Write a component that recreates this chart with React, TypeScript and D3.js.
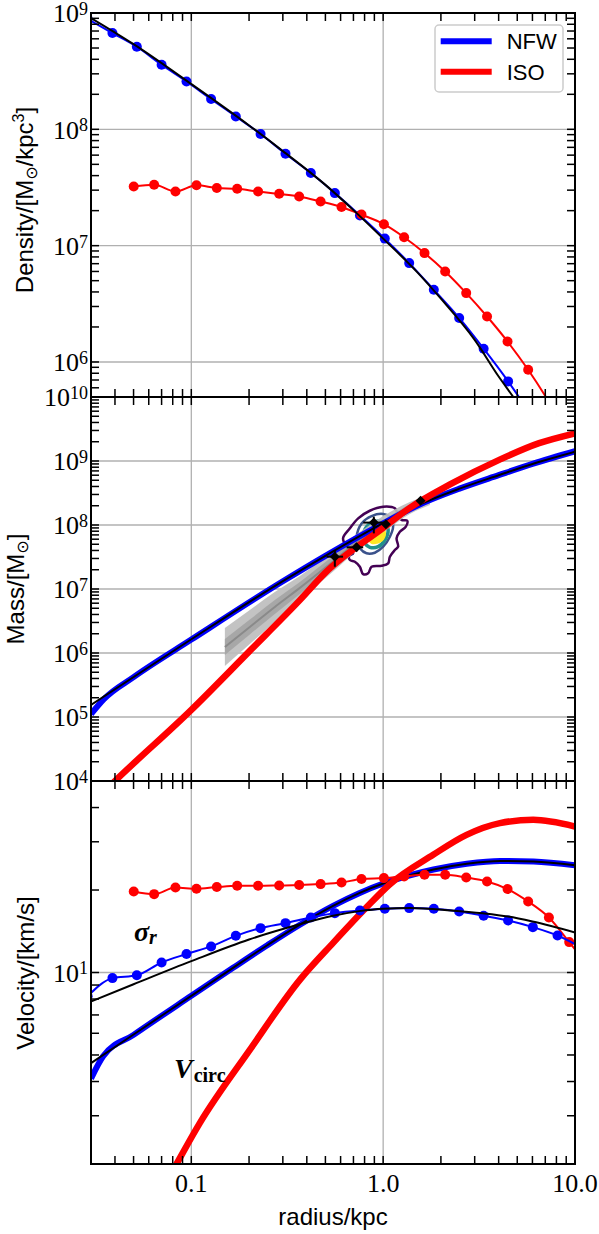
import React, { useEffect, useRef } from "react";
import * as d3 from "d3";

// ---- simulated NFW halo (blue dots) ----
const nfwR = [0.0288, 0.0388, 0.052, 0.07, 0.0944, 0.1268, 0.1706, 0.2296, 0.3097, 0.4198, 0.56, 0.757, 1.02, 1.367, 1.837, 2.49, 3.34, 4.48, 6.03, 8.11, 10.9];
const nfwDensity = [8.9e8, 6.73e8, 5.13e8, 3.59e8, 2.58e8, 1.82e8, 1.29e8, 9.12e7, 6.17e7, 4.21e7, 2.83e7, 1.82e7, 1.15e7, 7.08e6, 4.18e6, 2.39e6, 1.3e6, 6.81e5, 3.3e5, 1.5e5, 7e4];
const nfwSigma = [8.19, 9.54, 9.77, 10.88, 11.68, 12.45, 13.61, 14.52, 15.14, 15.88, 16.47, 16.84, 17.08, 17.18, 17.08, 16.7, 16.1, 15.48, 14.64, 13.65, 12.3];

// ---- simulated cored (ISO) halo (red dots) ----
const isoR = [0.0501, 0.064, 0.0827, 0.1064, 0.1358, 0.1734, 0.2229, 0.2871, 0.3649, 0.4721, 0.6067, 0.771, 1.009, 1.286, 1.643, 2.105, 2.71, 3.48, 4.45, 5.7, 7.31, 9.33, 11.9];
const isoDensity = [3.23e7, 3.34e7, 2.92e7, 3.3e7, 3.13e7, 3.08e7, 2.92e7, 2.79e7, 2.65e7, 2.4e7, 2.15e7, 1.85e7, 1.53e7, 1.18e7, 8.63e6, 6.0e6, 3.91e6, 2.46e6, 1.5e6, 8.57e5, 4.55e5, 2.3e5, 1.1e5];
const isoSigma = [19.75, 19.32, 20.43, 20.21, 20.5, 20.72, 20.72, 20.78, 20.85, 21.02, 21.31, 21.93, 22.11, 22.41, 22.73, 22.73, 22.22, 21.49, 20.16, 18.16, 15.88, 12.91, 10.4];

// ---- NFW fit (black) ----
const fitDensityR = [0.03, 0.05, 0.1, 0.2, 0.3, 0.5, 0.7, 1, 1.5, 2, 3, 4, 4.77, 6];
const fitDensity = [9.06e8, 5.4e8, 2.45e8, 1.08e8, 6.5e7, 3.33e7, 2.02e7, 1.15e7, 5.95e6, 3.5e6, 1.55e6, 7.5e5, 5.0e5, 2.9e5];
const fitMassR = [0.03, 0.1, 0.3, 0.5, 1, 1.5, 2.5, 4, 6, 10];
const fitMass = [1.54e5, 1.64e6, 1.33e7, 3.3e7, 1.07e8, 2.0e8, 3.7e8, 6.0e8, 9.0e8, 1.4e9];
const fitSigmaR = [0.03, 0.05, 0.1, 0.2, 0.368, 0.548, 0.75, 1.0, 1.38, 2.25, 3.3, 4.49, 6.0, 10];
const fitSigma = [7.84, 9.06, 11.0, 13.2, 15.0, 16.1, 16.75, 17.1, 17.2, 16.85, 16.45, 16.0, 15.35, 14.0];
const fitVcR = [0.03, 0.05, 0.1, 0.165, 0.25, 0.368, 0.548, 0.75, 1.0, 1.35, 1.83, 2.73, 4.07, 6.08, 10];
const fitVc = [4.67, 5.94, 8.22, 10.4, 12.6, 14.94, 17.51, 19.48, 21.12, 22.55, 23.76, 24.93, 25.53, 25.43, 24.62];

// ---- thick model curves ----
const nfwMassR = [0.03, 0.035, 0.05, 0.1, 0.3, 0.5, 1, 1.5, 2.5, 4, 6, 10];
const nfwMass = [1.11e5, 1.9e5, 4.2e5, 1.62e6, 1.32e7, 3.3e7, 1.06e8, 2.0e8, 3.7e8, 6.0e8, 9.0e8, 1.42e9];
const isoMassR = [0.03, 0.04, 0.1, 0.2, 0.368, 0.5, 1, 1.377, 2.23, 4.05, 6.5, 10];
const isoMass = [4.3e3, 1e4, 1.29e5, 1.05e6, 6.7e6, 1.8e7, 9e7, 1.85e8, 4.3e8, 1.05e9, 1.9e9, 2.71e9];
const nfwVcR = [0.03, 0.0347, 0.05, 0.1, 0.165, 0.25, 0.368, 0.548, 0.75, 1.0, 1.35, 1.83, 2.73, 4.07, 6.08, 10];
const nfwVc = [4.1, 4.95, 5.92, 8.22, 10.4, 12.6, 14.94, 17.51, 19.48, 21.12, 22.55, 23.76, 24.93, 25.53, 25.43, 24.62];
const isoVcR = [0.07, 0.0837, 0.1107, 0.2018, 0.3679, 0.5487, 0.8193, 1.084, 1.823, 2.72, 4.06, 6.06, 10];
const isoVc = [1.6, 2.0, 2.82, 5.22, 9.4, 12.83, 17.3, 21.0, 26.9, 31.8, 35.1, 36.1, 34.1];

// ---- enclosed mass estimates (grey band) ----
const bandR = [0.1496, 0.2018, 0.2724, 0.368, 0.56, 0.756, 1.02, 1.378, 1.752];
const bandMid = [1.24e6, 2.55e6, 5.24e6, 1.04e7, 2.84e7, 5.83e7, 1.07e8, 1.85e8, 2.46e8];
const bandOuterHi = [2.46e6, 4.7e6, 8.97e6, 1.6e7, 4.06e7, 7.78e7, 1.43e8, 2.29e8, 2.94e8];
const bandOuterLo = [6.27e5, 1.38e6, 3.05e6, 6.73e6, 1.98e7, 4.38e7, 8.05e7, 1.49e8, 2.06e8];
const bandInnerHi = [1.66e6, 3.33e6, 6.73e6, 1.29e7, 3.46e7, 6.98e7, 1.24e8, 2.09e8, 2.74e8];
const bandInnerLo = [9.31e5, 1.95e6, 4.06e6, 8.36e6, 2.33e7, 4.88e7, 9.31e7, 1.63e8, 2.21e8];

// ---- mass estimators with error bars ----
const obsR = [0.56, 0.727, 0.894, 1.033, 1.567];
const obsRLo = [0.507, 0.645, 0.787, 1.033, 1.567];
const obsRHi = [0.618, 0.787, 1.042, 1.033, 1.567];
const obsMass = [3.2e7, 4.48e7, 1.09e8, 1.03e8, 2.4e8];
const obsMassLo = [2.23e7, 3.88e7, 7.4e7, 1.03e8, 2.4e8];
const obsMassHi = [4.07e7, 5.18e7, 1.35e8, 1.03e8, 2.4e8];

// ---- contours [radius, mass] ----
const contourPurple = [[0.618, 6.2e7], [0.671, 8.87e7], [0.741, 1.27e8], [0.852, 1.67e8], [1.0, 1.93e8], [1.151, 1.82e8], [1.197, 1.43e8], [1.247, 1.2e8], [1.334, 1.17e8], [1.313, 9.4e7], [1.222, 7.85e7], [1.175, 6.2e7], [1.197, 4.58e7], [1.151, 4.06e7], [1.084, 3.2e7], [1.062, 2.52e7], [0.981, 2.31e7], [0.87, 2.23e7], [0.835, 1.76e7], [0.786, 1.71e7], [0.756, 2.23e7], [0.712, 2.67e7], [0.671, 2.84e7], [0.665, 3.28e7], [0.698, 3.61e7], [0.645, 4.58e7]];
const contourBlue = [[0.727, 6.56e7], [0.772, 1.06e8], [0.87, 1.38e8], [1.0, 1.49e8], [1.106, 1.27e8], [1.127, 9.4e7], [1.084, 6.56e7], [1.0, 4.58e7], [0.905, 3.69e7], [0.819, 3.61e7], [0.756, 4.33e7], [0.732, 5.48e7]];
const contourTeal = [[0.786, 6.56e7], [0.819, 9.4e7], [0.905, 1.13e8], [1.021, 1.09e8], [1.062, 8.36e7], [1.021, 5.83e7], [0.942, 4.58e7], [0.852, 4.48e7], [0.803, 5.18e7]];
const contourYellow = [[0.835, 6.56e7], [0.905, 8.36e7], [1.0, 8.87e7], [1.021, 6.98e7], [0.962, 5.48e7], [0.87, 5.28e7]];

// ---- axes ----
const xTickLabels = ["0.1", "1.0", "10.0"];
const xTickValues = [0.1, 1, 10];
const densityExps = [9, 8, 7, 6];
const massExps = [10, 9, 8, 7, 6, 5, 4];
const velocityExps = [1];

const LEFT = 91;
const RIGHT = 575;
const SERIF = "'Liberation Serif', 'DejaVu Serif', serif";
const SANS = "'Liberation Sans', 'DejaVu Sans', sans-serif";
const BLUE = "#0000ff";
const RED = "#ff0000";

const panels = [
  { key: "dens", top: 13, bottom: 397, domain: [5e5, 1e9], exps: densityExps, labelX: 33, labelY: 200 },
  { key: "mass", top: 397, bottom: 781, domain: [1e4, 1e10], exps: massExps, labelX: 24, labelY: 589 },
  { key: "vel", top: 781, bottom: 1164, domain: [2, 50], exps: velocityExps, labelX: 34, labelY: 973 },
];

const zip = (a: number[], b: number[]) => a.map((v, i) => [v, b[i]] as [number, number]);

function drawChart(el: SVGSVGElement) {
  const svg = d3.select(el);
  svg.selectAll("*").remove();

  const x = d3.scaleLog().domain([0.03, 10]).range([LEFT, RIGHT]);
  const ys = panels.map((p) => d3.scaleLog().domain(p.domain).range([p.bottom, p.top]));
  const defs = svg.append("defs");
  panels.forEach((p) => {
    defs.append("clipPath").attr("id", "clip-" + p.key)
      .append("rect").attr("x", LEFT).attr("y", p.top)
      .attr("width", RIGHT - LEFT).attr("height", p.bottom - p.top);
  });

  const mkLine = (y: any) => d3.line<[number, number]>()
    .x((d) => x(d[0])).y((d) => y(d[1])).curve(d3.curveMonotoneX);

  // grid
  panels.forEach((p, i) => {
    const g = svg.append("g");
    [0.1, 1].forEach((v) => {
      g.append("line").attr("x1", x(v)).attr("x2", x(v)).attr("y1", p.top).attr("y2", p.bottom)
        .attr("stroke", "#b0b0b0").attr("stroke-width", 1.3);
    });
    p.exps.forEach((e) => {
      const yy = ys[i](Math.pow(10, e));
      g.append("line").attr("x1", LEFT).attr("x2", RIGHT).attr("y1", yy).attr("y2", yy)
        .attr("stroke", "#b0b0b0").attr("stroke-width", 1.3);
    });
  });

  const plotG = panels.map((p) => svg.append("g").attr("clip-path", `url(#clip-${p.key})`));

  const dotted = (g: any, y: any, rs: number[], vs: number[], color: string) => {
    const pts = zip(rs, vs);
    g.append("path").attr("d", mkLine(y)(pts)).attr("fill", "none")
      .attr("stroke", color).attr("stroke-width", 2);
    g.selectAll(null).data(pts).enter().append("circle")
      .attr("cx", (d: any) => x(d[0])).attr("cy", (d: any) => y(d[1]))
      .attr("r", 5).attr("fill", color);
  };
  const curve = (g: any, y: any, rs: number[], vs: number[], color: string, w: number) => {
    g.append("path").attr("d", mkLine(y)(zip(rs, vs))).attr("fill", "none")
      .attr("stroke", color).attr("stroke-width", w);
  };

  // ---- panel 1: density ----
  const y0 = ys[0];
  dotted(plotG[0], y0, nfwR, nfwDensity, BLUE);
  dotted(plotG[0], y0, isoR, isoDensity, RED);
  curve(plotG[0], y0, fitDensityR, fitDensity, "#000", 2);

  // ---- panel 2: mass ----
  const y1 = ys[1];
  const g1 = plotG[1];
  const contour = d3.line<number[]>().x((d) => x(d[0])).y((d) => y1(d[1])).curve(d3.curveCatmullRomClosed);
  g1.append("path").attr("d", contour(contourPurple)).attr("fill", "none").attr("stroke", "#440154").attr("stroke-width", 2.5);
  g1.append("path").attr("d", contour(contourBlue)).attr("fill", "none").attr("stroke", "#3b528b").attr("stroke-width", 2.5);
  g1.append("path").attr("d", contour(contourTeal)).attr("fill", "none").attr("stroke", "#21918c").attr("stroke-width", 3.5);
  g1.append("path").attr("d", contour(contourYellow)).attr("fill", "#fde725").attr("stroke", "#fde725").attr("stroke-width", 2);

  const area = (lo: number[], hi: number[]) => d3.area<number>()
    .x((_, i) => x(bandR[i])).y0((_, i) => y1(lo[i])).y1((_, i) => y1(hi[i]))
    .curve(d3.curveMonotoneX)(bandR);
  g1.append("path").attr("d", area(bandOuterLo, bandOuterHi)).attr("fill", "#bdbdbd").attr("opacity", 0.9);
  g1.append("path").attr("d", area(bandInnerLo, bandInnerHi)).attr("fill", "#a4a4a4").attr("opacity", 0.9);
  curve(g1, y1, bandR, bandMid, "#8a8a8a", 2);

  curve(g1, y1, nfwMassR, nfwMass, BLUE, 6);
  curve(g1, y1, fitMassR, fitMass, "#000", 2);
  curve(g1, y1, isoMassR, isoMass, RED, 6.5);

  obsR.forEach((r, i) => {
    const cx = x(r), cy = y1(obsMass[i]);
    g1.append("line").attr("x1", x(obsRLo[i])).attr("x2", x(obsRHi[i])).attr("y1", cy).attr("y2", cy)
      .attr("stroke", "#000").attr("stroke-width", 2);
    g1.append("line").attr("x1", cx).attr("x2", cx).attr("y1", y1(obsMassLo[i])).attr("y2", y1(obsMassHi[i]))
      .attr("stroke", "#000").attr("stroke-width", 2);
    g1.append("path").attr("d", `M${cx},${cy - 5}L${cx + 5},${cy}L${cx},${cy + 5}L${cx - 5},${cy}Z`)
      .attr("fill", "#000");
  });

  // ---- panel 3: velocity ----
  const y2 = ys[2];
  const g2 = plotG[2];
  curve(g2, y2, nfwVcR, nfwVc, BLUE, 6);
  curve(g2, y2, fitVcR, fitVc, "#000", 2);
  curve(g2, y2, isoVcR, isoVc, RED, 6.5);
  dotted(g2, y2, isoR, isoSigma, RED);
  dotted(g2, y2, nfwR, nfwSigma, BLUE);
  curve(g2, y2, fitSigmaR, fitSigma, "#000", 2);

  // ---- ticks ----
  const tickG = svg.append("g").attr("stroke", "#000").attr("stroke-width", 1.5);
  const xTicks: number[] = [];
  for (let e = -2; e <= 1; e++) for (let m = 1; m <= 9; m++) {
    const v = m * Math.pow(10, e);
    if (v >= 0.0299 && v <= 10.001) xTicks.push(v);
  }
  panels.forEach((p, i) => {
    xTicks.forEach((v) => {
      const xx = x(v);
      tickG.append("line").attr("x1", xx).attr("x2", xx).attr("y1", p.top).attr("y2", p.top + 8);
      tickG.append("line").attr("x1", xx).attr("x2", xx).attr("y1", p.bottom).attr("y2", p.bottom - 8);
    });
    const [lo, hi] = p.domain;
    for (let e = Math.floor(Math.log10(lo)); e <= Math.ceil(Math.log10(hi)); e++) {
      for (let m = 1; m <= 9; m++) {
        const v = m * Math.pow(10, e);
        if (v < lo * 0.999 || v > hi * 1.001) continue;
        const yy = ys[i](v);
        tickG.append("line").attr("x1", LEFT).attr("x2", LEFT + 8).attr("y1", yy).attr("y2", yy);
        tickG.append("line").attr("x1", RIGHT).attr("x2", RIGHT - 8).attr("y1", yy).attr("y2", yy);
      }
    }
  });

  // spines
  panels.forEach((p) => {
    svg.append("rect").attr("x", LEFT).attr("y", p.top).attr("width", RIGHT - LEFT)
      .attr("height", p.bottom - p.top).attr("fill", "none").attr("stroke", "#000").attr("stroke-width", 2);
  });

  // y tick labels
  panels.forEach((p, i) => {
    p.exps.forEach((e) => {
      const t = svg.append("text").attr("x", 88).attr("y", ys[i](Math.pow(10, e)) + 9.4)
        .attr("text-anchor", "end").attr("font-family", SERIF).attr("font-size", 26);
      t.append("tspan").text("10");
      t.append("tspan").attr("font-size", 18).attr("dy", -7.5).text(String(e));
    });
  });

  // x tick labels
  xTickValues.forEach((v, i) => {
    svg.append("text").attr("x", x(v)).attr("y", 1191.5).attr("text-anchor", "middle")
      .attr("font-family", SERIF).attr("font-size", 26).text(xTickLabels[i]);
  });

  svg.append("text").attr("x", (LEFT + RIGHT) / 2).attr("y", 1225).attr("text-anchor", "middle")
    .attr("font-family", SANS).attr("font-size", 24).text("radius/kpc");

  // y axis labels
  const yl = (i: number) => svg.append("text")
    .attr("transform", `translate(${panels[i].labelX},${panels[i].labelY}) rotate(-90)`)
    .attr("text-anchor", "middle").attr("font-family", SANS).attr("font-size", 24);
  const t0 = yl(0);
  t0.append("tspan").text("Density/[M");
  t0.append("tspan").attr("font-size", 16).attr("dy", 4).text("⊙");
  t0.append("tspan").attr("dy", -4).text("/kpc");
  t0.append("tspan").attr("font-size", 16).attr("dy", -9).text("3");
  t0.append("tspan").attr("dy", 9).text("]");
  const t1 = yl(1);
  t1.append("tspan").text("Mass/[M");
  t1.append("tspan").attr("font-size", 16).attr("dy", 4).text("⊙");
  t1.append("tspan").attr("dy", -4).text("]");
  yl(2).text("Velocity/[km/s]");

  // math annotations
  const sig = svg.append("text").attr("x", 134).attr("y", 941).attr("font-family", SERIF)
    .attr("font-weight", "bold").attr("font-style", "italic").attr("font-size", 28);
  sig.append("tspan").text("σ");
  sig.append("tspan").attr("font-size", 20).attr("dy", 3).text("r");
  const vc = svg.append("text").attr("x", 174).attr("y", 1078).attr("font-family", SERIF)
    .attr("font-weight", "bold").attr("font-size", 28);
  vc.append("tspan").attr("font-style", "italic").text("V");
  vc.append("tspan").attr("font-size", 20).attr("dy", 4).attr("dx", 1).text("circ");

  // legend
  const lg = svg.append("g");
  lg.append("rect").attr("x", 435).attr("y", 25).attr("width", 128).attr("height", 67).attr("rx", 4)
    .attr("fill", "#fff").attr("fill-opacity", 0.85).attr("stroke", "#cccccc").attr("stroke-width", 1.5);
  [["NFW", BLUE, 41.3, 49.3], ["ISO", RED, 71.7, 80]].forEach(([name, color, ly, ty]) => {
    lg.append("line").attr("x1", 440.7).attr("x2", 491.7).attr("y1", ly as number).attr("y2", ly as number)
      .attr("stroke", color as string).attr("stroke-width", 6);
    lg.append("text").attr("x", 506.7).attr("y", ty as number).attr("font-family", SANS)
      .attr("font-size", 22).text(name as string);
  });
}

export default function App() {
  const ref = useRef<SVGSVGElement>(null);
  useEffect(() => {
    if (ref.current) drawChart(ref.current);
  }, []);
  return (
    <svg ref={ref} width={599} height={1234}
      style={{ position: "absolute", left: 0, top: 0, background: "#fff" }} />
  );
}
